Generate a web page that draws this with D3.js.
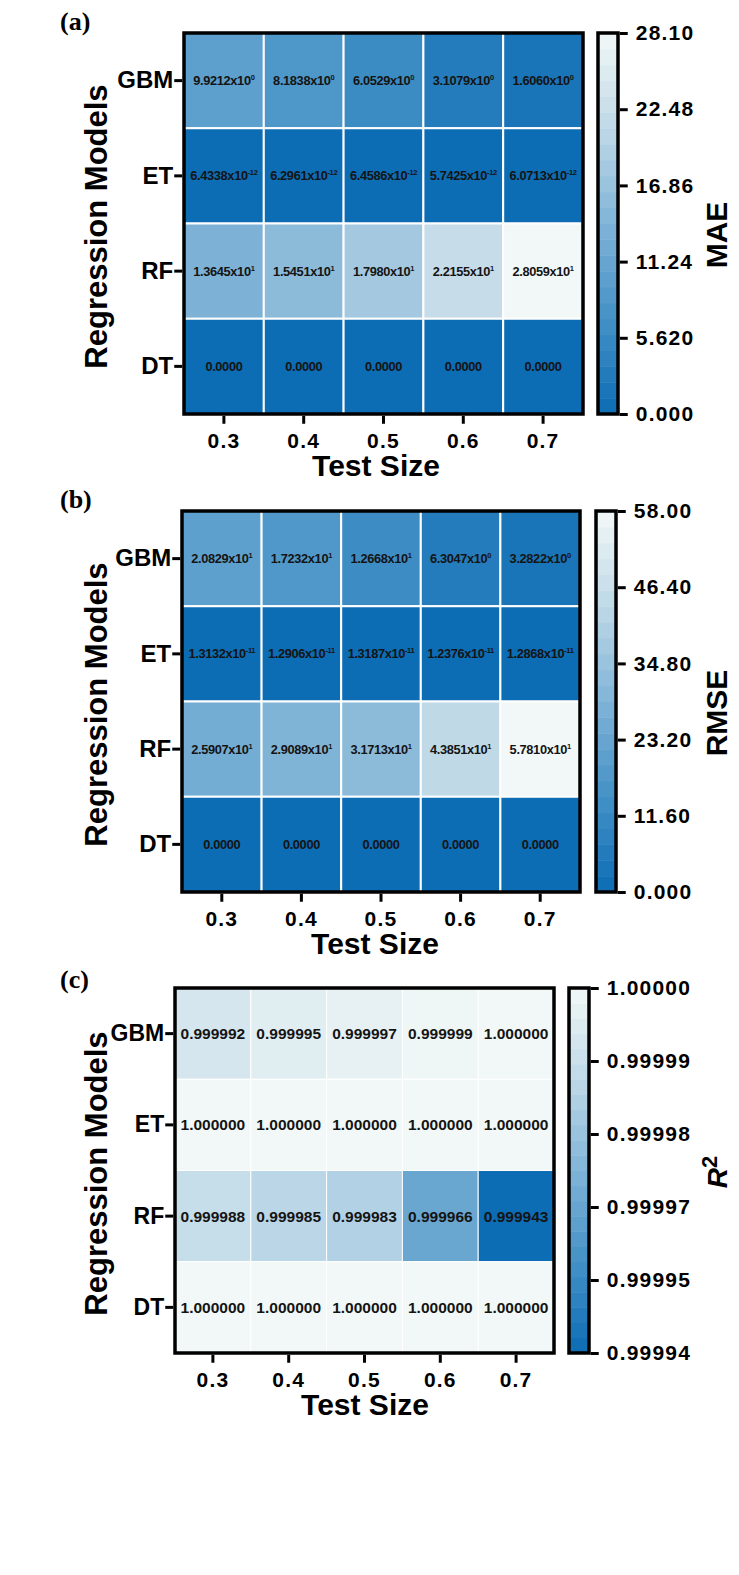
<!DOCTYPE html>
<html>
<head>
<meta charset="utf-8">
<script src="https://cdn.jsdelivr.net/npm/d3@7"></script>
<style>
  html, body { margin: 0; padding: 0; background: #fff; }
  svg { display: block; }
</style>
</head>
<body>
<script>
// ---------------- DATA ----------------
const testSizes = ["0.3", "0.4", "0.5", "0.6", "0.7"];
const models = ["GBM", "ET", "RF", "DT"];

// (a) MAE
const maeGBM = [9.9212, 8.1838, 6.0529, 3.1079, 1.6060];
const maeET  = [6.4338e-12, 6.2961e-12, 6.4586e-12, 5.7425e-12, 6.0713e-12];
const maeRF  = [13.645, 15.451, 17.980, 22.155, 28.059];
const maeDT  = [0, 0, 0, 0, 0];
const maeTicks = [0, 5.62, 11.24, 16.86, 22.48, 28.10];
const maeTickLabels = ["0.000", "5.620", "11.24", "16.86", "22.48", "28.10"];

// (b) RMSE
const rmseGBM = [20.829, 17.232, 12.668, 6.3047, 3.2822];
const rmseET  = [1.3132e-11, 1.2906e-11, 1.3187e-11, 1.2376e-11, 1.2868e-11];
const rmseRF  = [25.907, 29.089, 31.713, 43.851, 57.810];
const rmseDT  = [0, 0, 0, 0, 0];
const rmseTicks = [0, 11.6, 23.2, 34.8, 46.4, 58.0];
const rmseTickLabels = ["0.000", "11.60", "23.20", "34.80", "46.40", "58.00"];

// (c) R^2
const r2GBM = [0.999992, 0.999995, 0.999997, 0.999999, 1.000000];
const r2ET  = [1.000000, 1.000000, 1.000000, 1.000000, 1.000000];
const r2RF  = [0.999988, 0.999985, 0.999983, 0.999966, 0.999943];
const r2DT  = [1.000000, 1.000000, 1.000000, 1.000000, 1.000000];
const r2Ticks = [0.999943, 0.9999544, 0.9999658, 0.9999772, 0.9999886, 1.0];
const r2TickLabels = ["0.99994", "0.99995", "0.99997", "0.99998", "0.99999", "1.00000"];

// colour ramp (dark -> light)
const rampStops = [0, 0.25, 0.5, 0.75, 1];
const rampColors = ["#0c6cb4", "#4491c6", "#80b4d7", "#bed8e7", "#f2f8f7"];

// ---------------- DRAW ----------------
const W = 739, H = 1575;
const SANS = "'Liberation Sans', Arial, Helvetica, sans-serif";
const SERIF = "'Liberation Serif', 'Times New Roman', serif";
const TXT = "#141414";

const svg = d3.select("body").append("svg")
  .attr("width", W).attr("height", H)
  .attr("viewBox", `0 0 ${W} ${H}`);
svg.append("rect").attr("width", W).attr("height", H).attr("fill", "#fff");

const ramp = d3.scaleLinear().domain(rampStops).range(rampColors)
  .interpolate(d3.interpolateRgb).clamp(true);

function sciParts(v) {
  if (v === 0) return { m: "0.0000", e: null };
  const e = Math.floor(Math.log10(Math.abs(v)));
  const m = v / Math.pow(10, e);
  return { m: m.toFixed(4) + "x10", e: String(e) };
}

const panels = [
  { label: "(a)", labelY: 30, x0: 184, x1: 583, y0: 33, y1: 414,
    rows: [maeGBM, maeET, maeRF, maeDT], domain: [0, 28.10],
    ticks: maeTicks, tickLabels: maeTickLabels, cbX: 598, cbW: 20,
    title: "MAE", titleY: 235, fmt: "sci", cellFont: 12.8, gridW: 2, xTitleX: 376, yFont: 24 },
  { label: "(b)", labelY: 508, x0: 182, x1: 580, y0: 511, y1: 892,
    rows: [rmseGBM, rmseET, rmseRF, rmseDT], domain: [0, 58.0],
    ticks: rmseTicks, tickLabels: rmseTickLabels, cbX: 596, cbW: 20,
    title: "RMSE", titleY: 713, fmt: "sci", cellFont: 12.8, gridW: 2, xTitleX: 375, yFont: 24 },
  { label: "(c)", labelY: 988, x0: 175, x1: 554, y0: 988, y1: 1353,
    rows: [r2GBM, r2ET, r2RF, r2DT], domain: [0.999943, 1.0],
    ticks: r2Ticks, tickLabels: r2TickLabels, cbX: 569, cbW: 20,
    title: "R2", titleY: 1172, fmt: "fix", cellFont: 15.5, gridW: 1, xTitleX: 365, yFont: 23 }
];

panels.forEach(p => {
  const g = svg.append("g");
  const x = d3.scaleBand().domain(testSizes).range([p.x0, p.x1]);
  const y = d3.scaleBand().domain(models).range([p.y0, p.y1]);
  const norm = d3.scaleLinear().domain(p.domain).range([0, 1]);
  const color = v => ramp(norm(v));

  const cells = [];
  models.forEach((m, i) => testSizes.forEach((t, j) => cells.push({ m, t, v: p.rows[i][j] })));

  // cells
  g.selectAll("rect.cell").data(cells).join("rect")
    .attr("class", "cell")
    .attr("x", d => x(d.t)).attr("y", d => y(d.m))
    .attr("width", x.bandwidth()).attr("height", y.bandwidth())
    .attr("fill", d => color(d.v))
    .attr("stroke", "#ffffff").attr("stroke-width", p.gridW);

  // cell text
  const txt = g.selectAll("text.cell").data(cells).join("text")
    .attr("class", "cell")
    .attr("x", d => x(d.t) + x.bandwidth() / 2)
    .attr("y", d => y(d.m) + y.bandwidth() / 2)
    .attr("dy", "0.36em")
    .attr("text-anchor", "middle")
    .attr("font-family", SANS).attr("font-weight", "bold")
    .attr("font-size", p.cellFont).attr("fill", TXT);
  if (p.fmt === "sci") {
    txt.attr("letter-spacing", "-0.35");
    txt.each(function(d) {
      const s = sciParts(d.v);
      const t = d3.select(this);
      t.append("tspan").text(s.m);
      if (s.e !== null) {
        t.append("tspan").attr("font-size", 7.5).attr("dy", -5).text(s.e);
      }
    });
  } else {
    txt.text(d => d.v.toFixed(6));
  }

  // frame
  g.append("rect")
    .attr("x", p.x0).attr("y", p.y0)
    .attr("width", p.x1 - p.x0).attr("height", p.y1 - p.y0)
    .attr("fill", "none").attr("stroke", "#000").attr("stroke-width", 3.5);

  // y axis
  const ya = g.append("g").attr("transform", `translate(${p.x0 - 1.75},0)`)
    .call(d3.axisLeft(y).tickSize(8).tickPadding(1));
  ya.select(".domain").remove();
  ya.selectAll(".tick line").attr("stroke", "#000").attr("stroke-width", 3);
  ya.selectAll(".tick text").attr("font-family", SANS).attr("font-weight", "bold")
    .attr("font-size", p.yFont).attr("fill", "#000");

  // x axis
  const xa = g.append("g").attr("transform", `translate(0,${p.y1 + 1.75})`)
    .call(d3.axisBottom(x).tickSize(8).tickPadding(9));
  xa.select(".domain").remove();
  xa.selectAll(".tick line").attr("stroke", "#000").attr("stroke-width", 3);
  xa.selectAll(".tick text").attr("font-family", SANS).attr("font-weight", "bold")
    .attr("font-size", 21).attr("letter-spacing", "1.2").attr("fill", "#000");

  // axis titles
  g.append("text")
    .attr("x", p.xTitleX).attr("y", p.y1 + 62)
    .attr("text-anchor", "middle")
    .attr("font-family", SANS).attr("font-weight", "bold").attr("font-size", 30)
    .attr("fill", "#000").text("Test Size");
  g.append("text")
    .attr("transform", `translate(107,${(p.y0 + p.y1) / 2 + 3}) rotate(-90)`)
    .attr("text-anchor", "middle")
    .attr("font-family", SANS).attr("font-weight", "bold").attr("font-size", 31)
    .attr("fill", "#000").text("Regression Models");

  // panel label
  g.append("text").attr("x", 60).attr("y", p.labelY)
    .attr("font-family", SERIF).attr("font-weight", "bold").attr("font-size", 26)
    .attr("fill", "#000").text(p.label);

  // colour bar (stepped)
  const cbY = d3.scaleLinear().domain(p.domain).range([p.y1, p.y0]);
  const nb = 24;
  const bands = d3.range(nb).map(i => {
    const a = p.domain[0] + (p.domain[1] - p.domain[0]) * i / nb;
    const b = p.domain[0] + (p.domain[1] - p.domain[0]) * (i + 1) / nb;
    return { a, b };
  });
  g.selectAll("rect.band").data(bands).join("rect")
    .attr("class", "band")
    .attr("x", p.cbX).attr("width", p.cbW)
    .attr("y", d => cbY(d.b)).attr("height", d => cbY(d.a) - cbY(d.b) + 0.5)
    .attr("fill", d => color((d.a + d.b) / 2));
  g.append("rect")
    .attr("x", p.cbX).attr("y", p.y0).attr("width", p.cbW).attr("height", p.y1 - p.y0)
    .attr("fill", "none").attr("stroke", "#000").attr("stroke-width", 3.5);
  const ca = g.append("g").attr("transform", `translate(${p.cbX + p.cbW + 1.75},0)`)
    .call(d3.axisRight(cbY).tickValues(p.ticks).tickFormat((d, i) => p.tickLabels[i])
      .tickSize(8).tickPadding(8));
  ca.select(".domain").remove();
  ca.selectAll(".tick line").attr("stroke", "#000").attr("stroke-width", 3);
  ca.selectAll(".tick text").attr("font-family", SANS).attr("font-weight", "bold")
    .attr("font-size", 21).attr("letter-spacing", "1.2").attr("fill", "#000");

  // colour bar title
  const ct = g.append("text")
    .attr("transform", `translate(727,${p.titleY}) rotate(-90)`)
    .attr("text-anchor", "middle")
    .attr("font-family", SANS).attr("font-weight", "bold").attr("font-size", 30)
    .attr("fill", "#000");
  if (p.title === "R2") {
    ct.append("tspan").attr("font-style", "italic").attr("font-size", 28).text("R");
    ct.append("tspan").attr("font-size", 22).attr("dy", -10).text("2");
  } else {
    ct.text(p.title);
  }
});
</script>
</body>
</html>
